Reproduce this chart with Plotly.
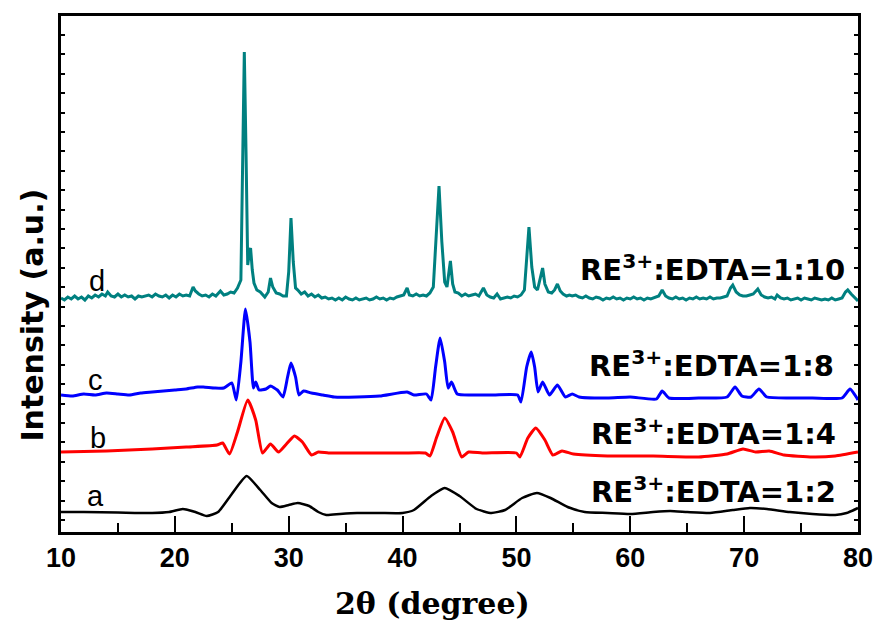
import plotly.graph_objects as go

# XRD patterns, intensities stacked with vertical offsets (a.u.)
two_theta_a = [10, 12, 15, 18, 19.5, 20.7, 21.8, 22.8, 23.8, 25.0, 26.3, 27.5, 28.5, 29.2, 30.0,
               30.8, 31.8, 32.6, 33.3, 34.5, 36, 38, 40, 41, 42.5, 43.7, 45, 46.5, 47.8, 49,
               50.5, 51.8, 53, 54.5, 56, 58, 60, 62, 63.5, 65, 67, 69, 70.5, 72, 74, 76, 78, 79, 80]
intensity_a = [20, 20, 19.5, 19, 20, 23, 20, 16, 20, 38, 56, 42, 29, 25, 27,
               29, 26, 20, 17, 18, 19, 19, 19, 22, 36, 44, 36, 23, 19, 22,
               34, 39, 34, 25, 20, 19, 18, 20, 21, 20, 19, 22, 24, 23, 20, 18, 17, 19, 24]

two_theta_b = [10, 14, 18, 21, 23.7, 24.2, 24.8, 25.5, 26.4, 27.1, 27.7, 28.4, 29.1, 29.8, 30.5,
               31.2, 32.0, 32.6, 33.5, 36, 40, 42.0, 42.4, 43.0, 43.7, 44.4, 45.2, 45.8, 47, 50.0,
               50.3, 51.0, 51.7, 52.5, 53.2, 54.0, 55, 58, 62, 66, 68.5, 69.9, 71, 72.2, 73.5,
               76, 78, 80]
intensity_b = [80, 81, 83, 85, 87, 89, 78, 100, 132, 112, 79, 88, 80, 88, 96,
               90, 77, 80, 79, 79, 79, 79, 76, 95, 114, 100, 75, 80, 79, 79,
               75, 94, 104, 92, 77, 81, 78, 76, 76, 75, 78, 83, 80, 81, 77,
               75, 76, 80]

two_theta_c = [10, 11, 12, 13, 14, 15, 16, 17, 18, 19, 20, 21, 22, 22.5, 23.5, 24.3, 25.0, 25.4,
               25.8, 26.2, 26.6, 26.9, 27.1, 27.4, 28.0, 28.4, 29.0, 29.5, 29.9, 30.2, 30.6,
               30.9, 31.3, 32, 33, 34, 36, 38, 40.4, 41, 42.1, 42.5, 42.9, 43.3, 43.7, 44.0,
               44.3, 44.8, 46, 48, 50.1, 50.4, 50.9, 51.3, 51.6, 51.9, 52.3, 52.9, 53.6, 54.3,
               54.9, 55.5, 58, 60, 62.3, 62.8, 63.4, 66, 68.5, 69.2, 69.8, 70.6, 71.3, 72, 74,
               76, 78.6, 79.3, 79.9, 80]
intensity_c = [137, 136, 138, 137, 139, 138, 137, 139, 140, 141, 142, 143, 145, 145, 144, 144, 149, 132,
               170, 223, 190, 144, 150, 142, 143, 146, 142, 135, 155, 169, 155,
               137, 141, 139, 137, 135, 135, 136, 140, 137, 138, 132, 165, 194, 170, 144,
               150, 138, 137, 137, 137, 130, 165, 180, 165, 140, 150, 137, 147, 135,
               138, 135, 134, 135, 133, 141, 134, 134, 135, 145, 136, 135, 143, 135, 134,
               134, 134, 143, 134, 132]

two_theta_d = [10.0, 10.3, 10.6, 10.9, 11.2, 11.5, 11.8, 12.1, 12.4, 12.7, 13.0, 13.3, 13.6, 13.9,
               14.1, 14.4, 14.7, 15.0, 15.3, 15.6, 15.9, 16.2, 16.5, 16.8, 17.1, 17.4, 17.7, 18.0,
               18.3, 18.6, 18.9, 19.2, 19.5, 19.8, 20.1, 20.4, 20.7, 21.0, 21.3, 21.6, 21.8, 22.1,
               22.4, 22.7, 23.0, 23.3, 23.6, 24.0, 24.3, 24.6, 24.9, 25.2, 25.5, 25.8, 26.0, 26.1,
               26.25, 26.4, 26.55, 26.65, 26.8, 26.95, 27.2, 27.5, 27.9, 28.2, 28.4, 28.6, 28.9,
               29.2, 29.5, 29.8, 30.0, 30.2, 30.4, 30.6, 30.8, 31.1, 31.4, 31.7, 32.0, 32.3, 32.6,
               32.9, 33.2, 33.5, 33.8, 34.1, 34.4, 34.7, 35.0, 35.3, 35.6, 35.9, 36.2, 36.5, 36.8,
               37.1, 37.4, 37.7, 38.0, 38.3, 38.6, 38.9, 39.2, 39.5, 39.8, 40.1, 40.4, 40.6, 40.9,
               41.2, 41.5, 41.8, 42.1, 42.4, 42.7, 42.95, 43.2, 43.45, 43.7, 43.9, 44.05, 44.2,
               44.4, 44.6, 44.9, 45.2, 45.5, 45.8, 46.1, 46.4, 46.7, 47.1, 47.4, 47.7, 48.0, 48.3,
               48.6, 48.9, 49.2, 49.5, 49.8, 50.1, 50.4, 50.7, 50.9, 51.1, 51.35, 51.6, 51.85,
               52.05, 52.3, 52.5, 52.8, 53.1, 53.35, 53.6, 53.85, 54.1, 54.4, 54.65, 54.9, 55.2,
               55.5, 55.8, 56.1, 56.4, 56.7, 57.0, 57.3, 57.6, 57.9, 58.2, 58.5, 58.8, 59.1, 59.4,
               59.7, 60.0, 60.3, 60.6, 60.9, 61.2, 61.5, 61.8, 62.1, 62.5, 62.8, 63.1, 63.4, 63.7,
               64.0, 64.3, 64.6, 64.9, 65.2, 65.5, 65.8, 66.1, 66.4, 66.7, 67.0, 67.3, 67.6, 67.9,
               68.2, 68.5, 68.8, 69.0, 69.3, 69.6, 69.9, 70.2, 70.5, 70.8, 71.2, 71.5, 71.8, 72.1,
               72.4, 72.7, 72.9, 73.2, 73.5, 73.8, 74.1, 74.4, 74.7, 75.0, 75.3, 75.6, 75.9, 76.2,
               76.5, 76.8, 77.1, 77.4, 77.7, 78.0, 78.3, 78.6, 78.9, 79.1, 79.4, 79.7, 80.0]
intensity_d = [234, 232, 235, 233, 236, 233, 235, 232, 236, 234, 237, 235, 238, 236,
               240, 236, 235, 238, 235, 237, 235, 236, 233, 236, 235, 236, 237, 235,
               238, 236, 235, 237, 234, 237, 235, 238, 236, 237, 236, 245, 241, 238,
               236, 237, 235, 238, 236, 241, 237, 238, 240, 239, 244, 252, 400, 480,
               380, 267, 280, 284, 262, 249, 242, 240, 235, 240, 254, 245, 239,
               238, 236, 236, 260, 314, 270, 244, 242, 238, 240, 236, 238, 235, 237,
               234, 235, 233, 234, 232, 234, 232, 235, 233, 232, 234, 232, 233, 234,
               232, 233, 235, 233, 234, 232, 234, 233, 235, 236, 237, 244, 237, 236,
               238, 236, 237, 236, 239, 245, 290, 346, 290, 250, 245, 258, 271,
               248, 240, 239, 236, 238, 236, 237, 238, 236, 244, 237, 235, 234, 238,
               233, 234, 235, 234, 236, 235, 237, 242, 270, 305, 265, 245, 242,
               252, 264, 248, 240, 239, 242, 248, 241, 238, 236, 237, 236, 237,
               235, 234, 236, 234, 233, 235, 234, 232, 234, 233, 235, 233, 234, 232,
               234, 233, 235, 233, 234, 232, 234, 233, 234, 236, 242, 236, 234, 233,
               235, 233, 234, 232, 234, 233, 235, 233, 234, 233, 235, 233, 234, 234,
               235, 236, 244, 247, 240, 237, 236, 236, 237, 238, 243, 237, 235, 234,
               235, 233, 237, 234, 233, 234, 232, 233, 234, 232, 234, 233, 232, 234,
               233, 232, 233, 232, 234, 232, 233, 234, 240, 242, 238, 234, 231]

curve_letters = ["a", "b", "c", "d"]
sample_labels = ["RE<sup>3+</sup>:EDTA=1:2", "RE<sup>3+</sup>:EDTA=1:4",
                 "RE<sup>3+</sup>:EDTA=1:8", "RE<sup>3+</sup>:EDTA=1:10"]
letter_pos = [(13.0, 36), (13.25, 94), (13.0, 152), (13.2, 251)]
label_pos = [(67.3, 42), (67.3, 100), (67.1, 168), (67.2, 264)]

x_ticks = [10, 20, 30, 40, 50, 60, 70, 80]
x_title = "2θ (degree)"
y_title = "Intensity (a.u.)"

colors = ["black", "#ff0000", "#0000ff", "#008080"]
widths = [2.5, 3, 3, 3]
series = [(two_theta_a, intensity_a, "spline"), (two_theta_b, intensity_b, "spline"),
          (two_theta_c, intensity_c, "spline"), (two_theta_d, intensity_d, "linear")]

fig = go.Figure()
for (xs, ys, shape), col, w in zip(series, colors, widths):
    fig.add_trace(go.Scatter(x=xs, y=ys, mode="lines",
                             line=dict(color=col, width=w, shape=shape, smoothing=0.5),
                             showlegend=False, hoverinfo="skip"))

annotations = []
for letter, (lx, ly) in zip(curve_letters, letter_pos):
    annotations.append(dict(x=lx, y=ly, xref="x", yref="y", text=letter, showarrow=False,
                            font=dict(family="Liberation Sans, Arial", size=29, color="black"),
                            xanchor="center", yanchor="middle"))
for text, (lx, ly) in zip(sample_labels, label_pos):
    annotations.append(dict(x=lx, y=ly, xref="x", yref="y", text="<b>" + text + "</b>",
                            showarrow=False,
                            font=dict(family="DejaVu Sans", size=29, color="black"),
                            xanchor="center", yanchor="middle"))
# axis titles, placed in paper coordinates
annotations.append(dict(x=0.4655, y=-0.138, xref="paper", yref="paper",
                        text="<b>" + x_title + "</b>", showarrow=False,
                        font=dict(family="DejaVu Serif", size=30, color="black"),
                        xanchor="center", yanchor="middle"))
annotations.append(dict(x=-0.036, y=0.42, xref="paper", yref="paper",
                        text="<b>" + y_title + "</b>", showarrow=False, textangle=-90,
                        font=dict(family="DejaVu Sans", size=30, color="black"),
                        xanchor="center", yanchor="middle"))

fig.update_layout(
    width=875, height=621,
    margin=dict(l=61, r=17, t=16, b=89),
    paper_bgcolor="white", plot_bgcolor="white",
    annotations=annotations,
    xaxis=dict(
        range=[10, 80], tickvals=x_ticks, ticktext=[f"<b>{v}</b>" for v in x_ticks],
        automargin=False,
        ticks="inside", ticklen=16, tickwidth=2, tickcolor="black",
        minor=dict(dtick=5, tick0=10, ticks="inside", ticklen=9, tickwidth=2, tickcolor="black"),
        showline=True, linewidth=3, linecolor="black", mirror=True,
        showgrid=False, zeroline=False,
        tickfont=dict(family="Liberation Sans, Arial", size=27, color="black"),
    ),
    yaxis=dict(
        range=[0, 516], tick0=12, dtick=19.4,
        automargin=False,
        ticks="inside", ticklen=4, tickwidth=1.5, tickcolor="black",
        showticklabels=False,
        showline=True, linewidth=3, linecolor="black", mirror="ticks",
        showgrid=False, zeroline=False,
    ),
)

fig.write_html("out.html")
